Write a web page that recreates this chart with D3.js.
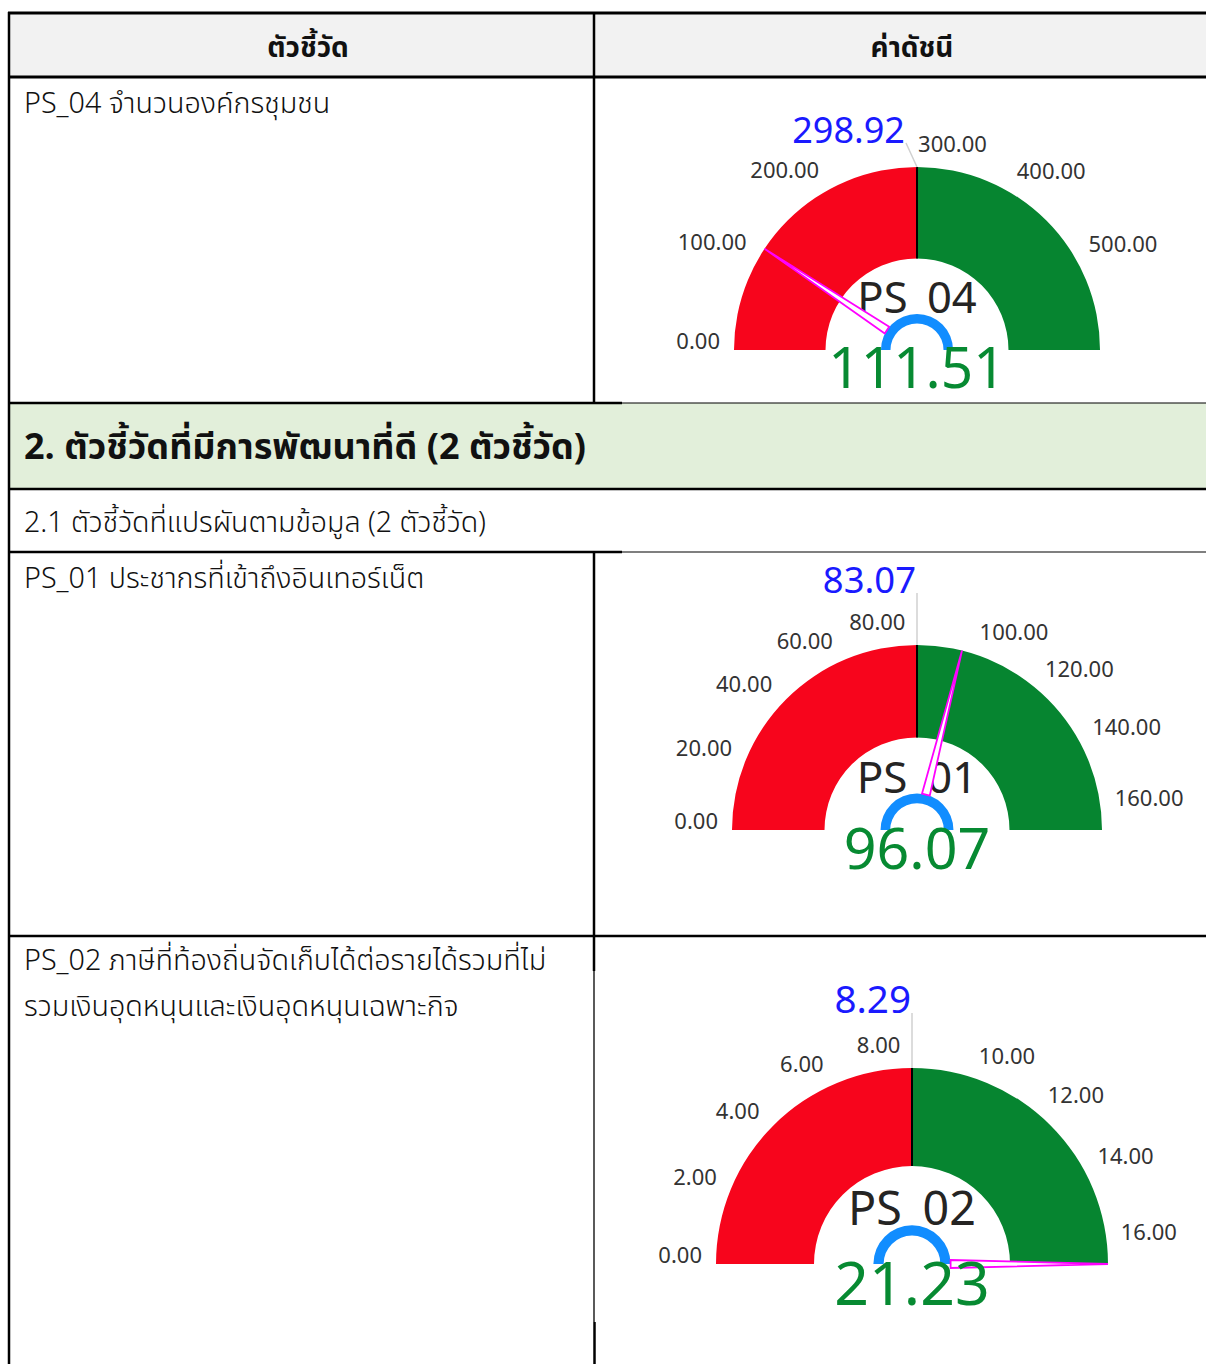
<!DOCTYPE html>
<html>
<head>
<meta charset="utf-8">
<script src="https://cdn.jsdelivr.net/npm/d3@7"></script>
<style>
  body { margin: 0; background: #fff; }
  svg text { font-family: "Noto Sans", "Open Sans", sans-serif; }
  .th { font-family: "Noto Sans Thai", "Leelawadee UI", "Tahoma", "Noto Sans", "DejaVu Sans", sans-serif; fill: #111; }
</style>
</head>
<body>
<div id="chart"></div>
<script>
// gauge data
const gaugeNames = ["PS_04", "PS_01", "PS_02"];
const gaugeValues = [111.51, 96.07, 21.23];
const gaugeTargets = [298.92, 83.07, 8.29];
const gaugeMax = [597.84, 166.14, 16.58];
const gaugeTicks = [
  [0, 100, 200, 300, 400, 500],
  [0, 20, 40, 60, 80, 100, 120, 140, 160],
  [0, 2, 4, 6, 8, 10, 12, 14, 16],
];

// table text
const headerLabels = ["ตัวชี้วัด", "ค่าดัชนี"];
const rowLabels = [
  ["PS_04 จำนวนองค์กรชุมชน"],
  ["PS_01 ประชากรที่เข้าถึงอินเทอร์เน็ต"],
  ["PS_02 ภาษีที่ท้องถิ่นจัดเก็บได้ต่อรายได้รวมที่ไม่", "รวมเงินอุดหนุนและเงินอุดหนุนเฉพาะกิจ"],
];
const sectionLabel = "2. ตัวชี้วัดที่มีการพัฒนาที่ดี (2 ตัวชี้วัด)";
const subSectionLabel = "2.1 ตัวชี้วัดที่แปรผันตามข้อมูล (2 ตัวชี้วัด)";

const W = 1206, H = 1364;
const svg = d3.select("#chart").append("svg").attr("width", W).attr("height", H);

// ---- table background + lines ----
svg.append("rect").attr("x", 8).attr("y", 13).attr("width", W - 8).attr("height", 64).attr("fill", "#f2f2f2");
svg.append("rect").attr("x", 8).attr("y", 403).attr("width", W - 8).attr("height", 86).attr("fill", "#e2efda");

const hLines = [
  { y: 13, x1: 8, x2: W, w: 3 },
  { y: 77, x1: 8, x2: W, w: 3 },
  { y: 403, x1: 8, x2: 622, w: 2.5 },
  { y: 403, x1: 622, x2: W, w: 1.2 },
  { y: 489, x1: 8, x2: W, w: 2.5 },
  { y: 552, x1: 8, x2: 622, w: 2.5 },
  { y: 552, x1: 622, x2: W, w: 1.2 },
  { y: 936, x1: 8, x2: W, w: 2.5 },
];
const vLines = [
  { x: 9, y1: 12, y2: H, w: 2.5 },
  { x: 594, y1: 12, y2: 403, w: 2.5 },
  { x: 594, y1: 552, y2: 971, w: 2.5 },
  { x: 594, y1: 971, y2: 1322, w: 1.3 },
  { x: 594.5, y1: 1322, y2: H, w: 2.5 },
];
svg.selectAll(".hl").data(hLines).enter().append("line")
  .attr("x1", d => d.x1).attr("x2", d => d.x2).attr("y1", d => d.y).attr("y2", d => d.y)
  .attr("stroke", "#000").attr("stroke-width", d => d.w);
svg.selectAll(".vl").data(vLines).enter().append("line")
  .attr("x1", d => d.x).attr("x2", d => d.x).attr("y1", d => d.y1).attr("y2", d => d.y2)
  .attr("stroke", "#000").attr("stroke-width", d => d.w);

// header
svg.selectAll(".hdr").data(headerLabels).enter().append("text")
  .attr("class", "th")
  .attr("x", (d, i) => i === 0 ? 308 : 912)
  .attr("y", 57)
  .attr("text-anchor", "middle")
  .attr("font-size", 28).attr("font-weight", "bold")
  .text(d => d);

// left column labels
const rowTextY = [113, 588, 970];
rowLabels.forEach((lines, i) => {
  lines.forEach((t, j) => {
    svg.append("text").attr("class", "th")
      .attr("x", 24).attr("y", rowTextY[i] + j * 46)
      .attr("font-size", 28.7).attr("font-weight", 300).text(t);
  });
});
svg.append("text").attr("class", "th").attr("x", 24).attr("y", 459)
  .attr("font-size", 36).attr("font-weight", "bold").text(sectionLabel);
svg.append("text").attr("class", "th").attr("x", 24).attr("y", 532)
  .attr("font-size", 28.5).attr("font-weight", 300).text(subSectionLabel);

// ---- gauges ----
const gaugeLayout = [
  { cx: 917, cy: 350, r: 183, tlx: 905, tly: 143 },
  { cx: 917, cy: 830, r: 185, tlx: 916, tly: 593 },
  { cx: 912, cy: 1264, r: 196, tlx: 911, tly: 1013 },
];

const pt = (cx, cy, r, a) => [cx + r * Math.sin(a), cy - r * Math.cos(a)];

gaugeNames.forEach((name, i) => {
  const L = gaugeLayout[i];
  const R = L.r, r0 = R / 2;
  const angle = d3.scaleLinear().domain([0, gaugeMax[i]]).range([-Math.PI / 2, Math.PI / 2]).clamp(true);
  const g = svg.append("g");
  const arc = d3.arc().innerRadius(r0).outerRadius(R);

  const bands = [
    { from: 0, to: gaugeTargets[i], color: "#f7051c" },
    { from: gaugeTargets[i], to: gaugeMax[i], color: "#068530" },
  ];
  g.selectAll(".band").data(bands).enter().append("path")
    .attr("transform", `translate(${L.cx},${L.cy})`)
    .attr("d", d => arc({ startAngle: angle(d.from), endAngle: angle(d.to) }))
    .attr("fill", d => d.color);

  // target marker
  const ta = angle(gaugeTargets[i]);
  const [ix, iy] = pt(L.cx, L.cy, r0, ta);
  const [ox, oy] = pt(L.cx, L.cy, R, ta);
  g.append("line").attr("x1", ix).attr("y1", iy).attr("x2", ox).attr("y2", oy)
    .attr("stroke", "#000").attr("stroke-width", 2);
  g.append("line").attr("x1", ox).attr("y1", oy).attr("x2", L.tlx + 1).attr("y2", L.tly)
    .attr("stroke", "#d0d0d0").attr("stroke-width", 1.5);
  g.append("text").attr("x", L.tlx).attr("y", L.tly)
    .attr("text-anchor", "end").attr("font-size", R * 0.197).attr("fill", "#1a1aff")
    .text(d3.format(".2f")(gaugeTargets[i]));

  // tick labels
  g.selectAll(".tick").data(gaugeTicks[i]).enter().append("text")
    .attr("x", d => pt(L.cx, L.cy, R + 14, angle(d))[0])
    .attr("y", d => pt(L.cx, L.cy, R + 14, angle(d))[1] - 1)
    .attr("text-anchor", d => angle(d) < 0 ? "end" : "start")
    .attr("font-size", 22).attr("fill", "#333")
    .text(d3.format(".2f"));

  // name
  g.append("text").attr("x", L.cx).attr("y", L.cy - R * 0.2)
    .attr("text-anchor", "middle").attr("font-size", R * 0.238).attr("fill", "#252423")
    .text(name);

  // hub
  const hub = d3.arc().innerRadius(R * 0.145).outerRadius(R * 0.197)
    .startAngle(-Math.PI / 2).endAngle(Math.PI / 2);
  g.append("path").attr("transform", `translate(${L.cx},${L.cy})`).attr("d", hub()).attr("fill", "#118dff");

  // needle: thin outlined triangle from hub to outer edge
  const va = angle(gaugeValues[i]);
  const hubR = R * 0.197, hw = 4;
  const tip = pt(L.cx, L.cy, R, va);
  const base = pt(L.cx, L.cy, hubR, va);
  const nx = Math.cos(va), ny = Math.sin(va);
  const b1 = [base[0] - nx * hw, base[1] - ny * hw];
  const b2 = [base[0] + nx * hw, base[1] + ny * hw];
  g.append("path").attr("d", d3.line()([b1, tip, b2]) + "Z")
    .attr("fill", "#fff").attr("stroke", "#ff00ff").attr("stroke-width", 1.8);

  // value
  g.append("text").attr("x", L.cx).attr("y", L.cy + R * 0.21)
    .attr("text-anchor", "middle").attr("font-size", R * 0.31).attr("fill", "#078a32")
    .text(d3.format(".2f")(gaugeValues[i]));
});
</script>
</body>
</html>
